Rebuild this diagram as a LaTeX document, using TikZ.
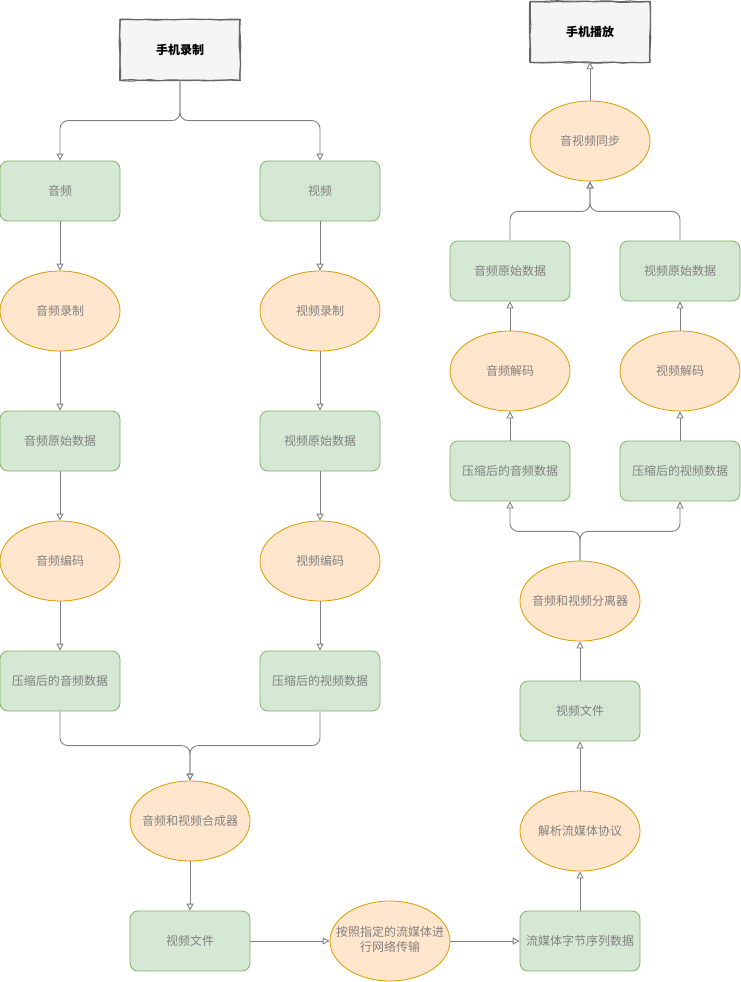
\documentclass[tikz,border=0pt]{standalone}
\usepackage{fontspec}
\setmainfont{Noto Sans CJK SC}
\usetikzlibrary{arrows.meta,shapes.geometric,decorations.pathmorphing}
\definecolor{gfill}{HTML}{D5E8D4}
\definecolor{gline}{HTML}{82B366}
\definecolor{ofill}{HTML}{FFE6CC}
\definecolor{oline}{HTML}{D79B00}
\definecolor{tfill}{HTML}{F5F5F5}
\definecolor{tline}{HTML}{666666}
\definecolor{txt}{HTML}{808080}
\definecolor{edgec}{HTML}{808080}
\newcommand\zw[1]{\makebox[0pt]{#1}}
\tikzset{
  gbox/.style={draw=gline, fill=gfill, rounded corners=8pt, minimum width=120pt, minimum height=60pt, inner sep=0pt, text=txt, font=\fontsize{12pt}{15pt}\selectfont, line width=0.8pt},
  oell/.style={ellipse, draw=oline, fill=ofill, minimum width=120pt, minimum height=80pt, inner sep=0pt, text=txt, font=\fontsize{12pt}{15pt}\selectfont, line width=0.8pt, align=center},
  tbox/.style={fill=tfill, minimum width=120pt, minimum height=60pt, inner sep=0pt, text=black, font=\bfseries\fontsize{12pt}{15pt}\selectfont},
  sketch/.style={draw=tline, line width=1.1pt, decorate, decoration={random steps, segment length=9pt, amplitude=0.6pt}},
  edge/.style={draw=edgec, line width=0.9pt, rounded corners=8pt, -{Triangle[open, length=7pt, width=7pt]}}
}
\begin{document}
\begin{tikzpicture}[x=1pt,y=-1pt]
\useasboundingbox (0,0) rectangle (741,982);
% titles
\node[tbox] (rec) at (180,50) {手机录制};
\pgfmathsetseed{7}
\draw[sketch] (rec.south west) rectangle (rec.north east);
\draw[sketch] ([shift={(0.5pt,-0.4pt)}]rec.south west) rectangle ([shift={(-0.4pt,0.5pt)}]rec.north east);
\node[tbox] (play) at (590,32) {手机播放};
\draw[sketch] (play.south west) rectangle (play.north east);
\draw[sketch] ([shift={(0.5pt,-0.4pt)}]play.south west) rectangle ([shift={(-0.4pt,0.5pt)}]play.north east);
% left side
\node[gbox] (aud) at (60,191) {音频};
\node[gbox] (vid) at (320,191) {视频};
\node[oell] (arec) at (60,311) {\zw{音频录制}};
\node[oell] (vrec) at (320,311) {\zw{视频录制}};
\node[gbox] (araw) at (60,441) {音频原始数据};
\node[gbox] (vraw) at (320,441) {视频原始数据};
\node[oell] (aenc) at (60,561) {\zw{音频编码}};
\node[oell] (venc) at (320,561) {\zw{视频编码}};
\node[gbox] (acmp) at (60,681) {压缩后的音频数据};
\node[gbox] (vcmp) at (320,681) {压缩后的视频数据};
\node[oell] (mix) at (190,821) {\zw{音频和视频合成器}};
\node[gbox] (file1) at (190,941) {视频文件};
\node[oell] (net) at (390,941) {\zw{\begin{tabular}{@{}c@{}}按照指定的流媒体进\\行网络传输\end{tabular}}};
\node[gbox] (stream) at (580,941) {流媒体字节序列数据};
% right side
\node[oell] (parse) at (580,831) {\zw{解析流媒体协议}};
\node[gbox] (file2) at (580,711) {视频文件};
\node[oell] (sep) at (580,601) {\zw{音频和视频分离器}};
\node[gbox] (acmp2) at (510,471) {压缩后的音频数据};
\node[gbox] (vcmp2) at (680,471) {压缩后的视频数据};
\node[oell] (adec) at (510,371) {\zw{音频解码}};
\node[oell] (vdec) at (680,371) {\zw{视频解码}};
\node[gbox] (araw2) at (510,271) {音频原始数据};
\node[gbox] (vraw2) at (680,271) {视频原始数据};
\node[oell] (sync) at (590,141) {\zw{音视频同步}};
% edges left
\draw[edge] (rec.south) |- ([yshift=40pt]aud.north) -- (aud.north);
\draw[edge] (rec.south) |- ([yshift=40pt]vid.north) -- (vid.north);
\draw[edge] (aud) -- (arec);
\draw[edge] (vid) -- (vrec);
\draw[edge] (arec) -- (araw);
\draw[edge] (vrec) -- (vraw);
\draw[edge] (araw) -- (aenc);
\draw[edge] (vraw) -- (venc);
\draw[edge] (aenc) -- (acmp);
\draw[edge] (venc) -- (vcmp);
\draw[edge] (acmp.south) |- ([yshift=35pt]mix.north) -- (mix.north);
\draw[edge] (vcmp.south) |- ([yshift=35pt]mix.north) -- (mix.north);
\draw[edge] (mix) -- (file1);
\draw[edge] (file1) -- (net);
\draw[edge] (net) -- (stream);
% edges right
\draw[edge] (stream) -- (parse);
\draw[edge] (parse) -- (file2);
\draw[edge] (file2) -- (sep);
\draw[edge] (sep.north) |- ([yshift=-30pt]acmp2.south) -- (acmp2.south);
\draw[edge] (sep.north) |- ([yshift=-30pt]vcmp2.south) -- (vcmp2.south);
\draw[edge] (acmp2) -- (adec);
\draw[edge] (vcmp2) -- (vdec);
\draw[edge] (adec) -- (araw2);
\draw[edge] (vdec) -- (vraw2);
\draw[edge] (araw2.north) |- ([yshift=-30pt]sync.south) -- (sync.south);
\draw[edge] (vraw2.north) |- ([yshift=-30pt]sync.south) -- (sync.south);
\draw[edge] (sync) -- (play);
\end{tikzpicture}
\end{document}
